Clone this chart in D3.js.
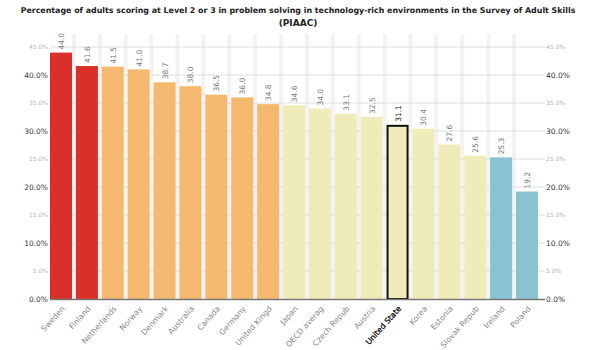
<!DOCTYPE html>
<html><head><meta charset="utf-8">
<script src="https://cdn.jsdelivr.net/npm/d3@7"></script>
<style>body{margin:0;background:#fff;} svg{display:block;font-family:"DejaVu Sans",Verdana,sans-serif;}</style>
</head><body>
<svg id="c" width="596" height="350"></svg>
<script>
const countries = ["Sweden","Finland","Netherlands","Norway","Denmark","Australia","Canada","Germany","United Kingdom","Japan","OECD average","Czech Republic","Austria","United States","Korea","Estonia","Slovak Republic","Ireland","Poland"];
const axisLabels = ["Sweden","Finland","Netherlands","Norway","Denmark","Australia","Canada","Germany","United Kingd","Japan","OECD averag","Czech Repub","Austria","United State","Korea","Estonia","Slovak Repub","Ireland","Poland"];
const values = [44.0,41.6,41.5,41.0,38.7,38.0,36.5,36.0,34.8,34.6,34.0,33.1,32.5,31.1,30.4,27.6,25.6,25.3,19.2];
const groups = ["top","top","above","above","above","above","above","above","above","avg","avg","avg","avg","avg","avg","avg","avg","below","below"];
const yTicks = [0,5,10,15,20,25,30,35,40,45];
const highlight = "United States";
const groupColors = {top:"#d9302a", above:"#f4b96f", avg:"#f0ecb9", below:"#88c3d2"};
const title = ["Percentage of adults scoring at Level 2 or 3 in problem solving in technology-rich environments in the Survey of Adult Skills","(PIAAC)"];

const svg = d3.select("#c");
const L = 50, R = 538, gridR = 545;
const x = d3.scaleBand().domain(countries).range([L, R]).paddingInner(0.15).paddingOuter(0);
const y = d3.scaleLinear().domain([0,45]).range([299,47]);

// title
const t = svg.append("g");
title.forEach((s,i)=>{
  const tx = t.append("text").attr("x",298).attr("y",13+i*13).attr("text-anchor","middle")
    .attr("font-weight","bold").attr("font-size",9).attr("fill","#222").text(s);
  if(i===0){
    const w = tx.node().getComputedTextLength();
    tx.attr("font-size", 9*556/w);
  }
});

// vertical grid bands between bars
const step = x.step();
for(let i=1;i<countries.length;i++){
  const gx = x(countries[i]) - (step - x.bandwidth())/2;
  svg.append("line").attr("x1",gx).attr("x2",gx).attr("y1",34).attr("y2",299)
    .attr("stroke","#f3f3f3").attr("stroke-width",4);
}
// horizontal grid
yTicks.filter(d=>d>0).forEach(d=>{
  svg.append("line").attr("x1",L).attr("x2",gridR).attr("y1",y(d)).attr("y2",y(d))
    .attr("stroke","#dedede").attr("stroke-width",1);
});

// y axis labels both sides
const fmt = d3.format(".1f");
[["left",L-2,"end"],["right",gridR+1,"start"]].forEach(([side,px,anchor])=>{
  yTicks.forEach(d=>{
    const major = d%10===0;
    svg.append("text").attr("x",px).attr("y",y(d)).attr("dy","0.35em").attr("text-anchor",anchor)
      .attr("font-size",major?7.5:6).attr("fill",major?"#333":"#b5b5b5").text(fmt(d)+"%");
  });
});

// bars
svg.selectAll("rect.bar").data(countries).join("rect").attr("class","bar")
  .attr("x",d=>x(d)).attr("width",x.bandwidth())
  .attr("y",(d,i)=>y(values[i])).attr("height",(d,i)=>y(0)-y(values[i]))
  .attr("fill",(d,i)=>groupColors[groups[i]]);
// highlight
svg.selectAll("rect.hl").data(countries.filter(c=>c===highlight)).join("rect").attr("class","hl")
  .attr("x",d=>x(d)+1).attr("width",x.bandwidth()-2)
  .attr("y",d=>y(values[countries.indexOf(d)])+1).attr("height",d=>y(0)-y(values[countries.indexOf(d)])-1)
  .attr("fill","none").attr("stroke","#111").attr("stroke-width",2);

// baseline
svg.append("line").attr("x1",L).attr("x2",gridR).attr("y1",y(0)+0.5).attr("y2",y(0)+0.5)
  .attr("stroke","#777").attr("stroke-width",1.5);

// value labels
svg.selectAll("text.val").data(countries).join("text").attr("class","val")
  .attr("transform",(d,i)=>`translate(${x(d)+x.bandwidth()/2+3},${y(values[i])-3}) rotate(-90)`)
  .attr("font-size",7.5).attr("fill",d=>d===highlight?"#111":"#777")
  .text((d,i)=>fmt(values[i]));

// x labels
const xAxis = d3.axisBottom(x).tickSize(0).tickFormat((d,i)=>axisLabels[i]);
const xg = svg.append("g").attr("transform",`translate(0,${y(0)})`).call(xAxis);
xg.select(".domain").remove();
xg.selectAll("text").attr("font-size",7.8).attr("font-family","DejaVu Sans, sans-serif")
  .attr("fill",d=>d===highlight?"#000":"#888")
  .attr("stroke",d=>d===highlight?"#000":"none").attr("stroke-width",0.25)
  .attr("text-anchor","end").attr("dx","0").attr("dy","0")
  .attr("transform","translate(2,8) rotate(-48)");
</script>
</body></html>
